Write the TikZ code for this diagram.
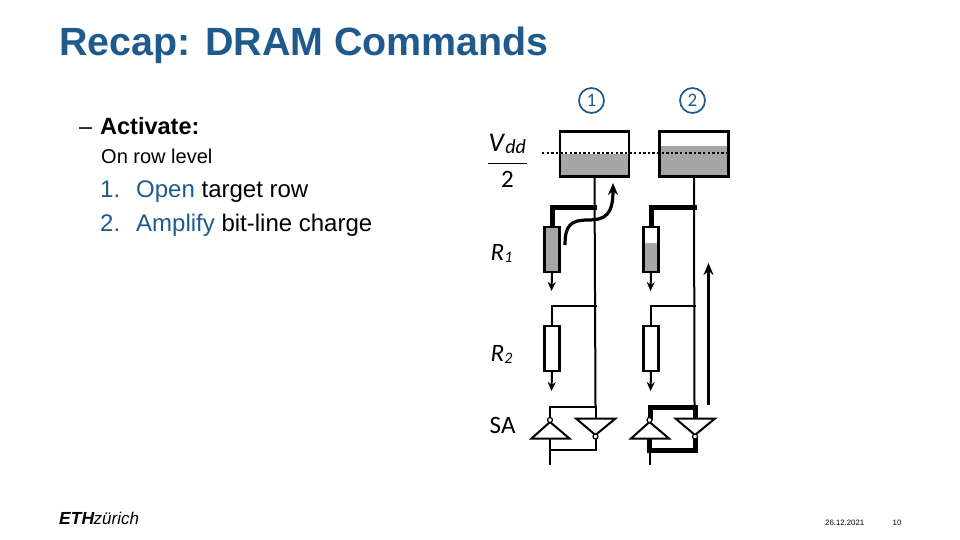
\documentclass[tikz,border=0pt]{standalone}
\usepackage{fontspec}
\setmainfont{Liberation Sans}
\newfontfamily\labelfont{Carlito}
\definecolor{ethblue}{HTML}{1F5A8C}
\definecolor{chargegray}{HTML}{A6A6A6}
\usetikzlibrary{arrows.meta}
\begin{document}
\begin{tikzpicture}[x=1pt,y=-1pt,line cap=butt,line join=miter,>={Stealth[length=9pt,width=8pt]},
	cell/.style={draw,line width=2.6pt,minimum width=69pt,minimum height=45pt,inner sep=0pt},
	res/.style={draw,line width=2.4pt,minimum width=15pt,minimum height=45pt,inner sep=0pt},
	wire/.style={line width=2pt},
	wordline/.style={line width=5pt},
	fat/.style={line width=5pt},
	flow/.style={-{Stealth[length=12pt,width=10pt]}},
	inv/.style={line width=2pt,fill=white,line join=miter},
	bubble/.style={circle,draw,line width=1.2pt,fill=white,minimum size=5pt,inner sep=0pt},
	txt/.style={anchor=base west,inner sep=0pt,font=\fontsize{#1}{#1}\selectfont},
	lab/.style={anchor=base west,inner sep=0pt,font=\labelfont\fontsize{25}{25}\selectfont},
	step num/.style={circle,draw=ethblue,text=ethblue,line width=1.7pt,minimum size=25pt,inner sep=0pt,font=\labelfont\fontsize{19}{19}\selectfont}]
	\useasboundingbox (0,0) rectangle (960,540);
	% slide text
	\node[txt=40,text=ethblue,font=\bfseries\fontsize{39.4}{40}\selectfont] (title) at (59,56) {Recap: DRAM Commands};
	\node[txt=23.5] (dashmark) at (79,135) {–};
	\node[txt=23.5,font=\bfseries\fontsize{23.5}{24}\selectfont] (activate) at (100,135) {Activate:};
	\node[txt=20] (rowlevel) at (101,163.5) {On row level};
	\node[txt=24,text=ethblue] (numa) at (100,197) {1.};
	\node[txt=24] (itema) at (136,197) {\textcolor{ethblue}{Open} target row};
	\node[txt=24,text=ethblue] (numb) at (100,231) {2.};
	\node[txt=24] (itemb) at (136,231) {\textcolor{ethblue}{Amplify} bit-line charge};
	\node[txt=17,font=\bfseries\itshape\fontsize{17.5}{18}\selectfont] (logoa) at (59,524) {ETH};
	\node[txt=17,font=\itshape\fontsize{17}{18}\selectfont] (logob) at (93.5,524) {zürich};
	\node[txt=7.8] (date) at (825,525) {26.12.2021};
	\node[txt=7.8] (page) at (892.5,525) {10};
	% step marks
	\node[step num] (stepa) at (591.5,100.5) {1};
	\node[step num] (stepb) at (692.5,100.5) {2};
	% charge levels
	\fill[chargegray] (559,154) rectangle (630,177);
	\fill[chargegray] (659,146.5) rectangle (729,177);
	\fill[chargegray] (544,227) rectangle (560,272);
	\fill[chargegray] (643,243) rectangle (659,272);
	% capacitors and rows
	\node[cell] (capa) at (594.5,154) {};
	\node[cell] (capb) at (694,154) {};
	\node[res] (resaa) at (552,249.5) {};
	\node[res] (resab) at (651,249.5) {};
	\node[res] (resba) at (552,348.5) {};
	\node[res] (resbb) at (651,348.5) {};
	\draw[line width=2.4pt,dash pattern=on 2.4pt off 2.2pt] (542,153)--(728,153);
	% bit-lines
	\coordinate (sena) at (595.5,407); \coordinate (senb) at (694.5,407);
	\draw[wire] (capa.south)--(sena);
	\draw[wire] (capb.south)--(senb);
	% first column
	\draw[wordline] (597,207.5)-|(resaa.north);
	\draw[wire,->] (resaa.south)--(551.5,291);
	\draw[wire] (597,306)-|(resba.north);
	\draw[wire,->] (resba.south)--(551.5,391);
	\draw[wire] (597,407)-|(550,420);
	\draw[wire] (550,439)--(550,465);
	\draw[wire] (549,450)-|(595.5,437);
	\draw[wire] (sena)--(595.5,418);
	% second column
	\draw[wordline] (696.5,207.5)-|(resab.north);
	\draw[wire,->] (resab.south)--(650.5,291);
	\draw[wire] (696,306)-|(resbb.north);
	\draw[wire,->] (resbb.south)--(650.5,391);
	\draw[fat] (697,407)-|(650,420);
	\draw[fat] (695,405)--(695,418);
	\draw[wire] (649.5,439)--(649.5,465);
	\draw[fat] (649.5,439)--(649.5,450)-|(695,438);
	% sense amp inverters
	\foreach \dx/\nm in {0/a,99.5/b}{
		\draw[inv] (550+\dx,422)--(569.5+\dx,438.5)--(531.5+\dx,438.5)--cycle;
		\draw[inv] (576+\dx,418.5)--(615.5+\dx,418.5)--(595.5+\dx,435)--cycle;
		\node[bubble] (bubl\nm) at (550+\dx,420) {};
		\node[bubble] (bubr\nm) at (595.5+\dx,436.5) {};
	}
	% charge flow arrows
	\coordinate (flowa) at (565,245); \coordinate (flowb) at (613,183);
	\draw[line width=3.2pt,flow] (flowa) .. controls (565,226) and (570,220) .. (588,220)
		.. controls (606,220) and (613,214) .. (flowb);
	\coordinate (ampa) at (708.5,405); \coordinate (ampb) at (708.5,263);
	\draw[line width=2.8pt,flow] (ampa)--(ampb);
	% labels
	\node[lab,font=\labelfont\fontsize{27}{27}\selectfont] (vdd) at (488.5,152) {\textit{V}\raisebox{-2pt}{\fontsize{20}{20}\selectfont\textit{dd}}};
	\coordinate (fraca) at (488,163.5); \coordinate (fracb) at (526.5,163.5);
	\draw[line width=1.2pt] (fraca)--(fracb);
	\node[lab] (two) at (501,187) {2};
	\node[lab] (ra) at (490.5,260) {\textit{R}\raisebox{-2pt}{\fontsize{16}{16}\selectfont\textit{1}}};
	\node[lab] (rb) at (490.5,361) {\textit{R}\raisebox{-2pt}{\fontsize{16}{16}\selectfont\textit{2}}};
	\node[lab] (sa) at (489.5,433) {SA};
\end{tikzpicture}
\end{document}
